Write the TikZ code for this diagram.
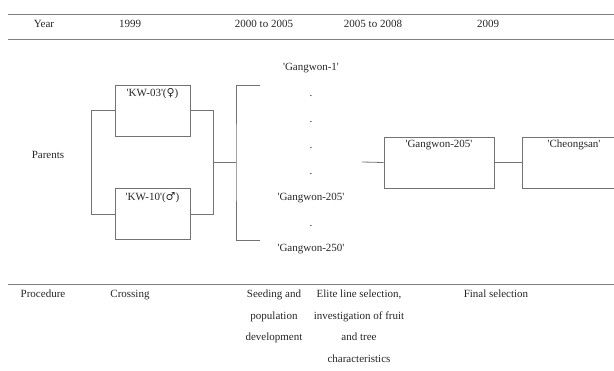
\documentclass[tikz,border=0pt]{standalone}
\usepackage{fontspec}
\setmainfont{Liberation Serif}[Ligatures=TeXOff]
\newfontfamily\symfont{DejaVu Serif}
\usetikzlibrary{positioning}
\newcommand{\sexsym}[1]{{\symfont\fontsize{11}{11}\selectfont #1}}

\begin{document}
\begin{tikzpicture}[x=1pt,y=-1pt,font=\rmfamily\fontsize{11}{12}\selectfont,
    every node/.style={inner sep=0pt,text=black!85}]
\tikzstyle{rule}=[draw=black!50,line width=1pt]
\tikzstyle{link}=[draw=black!55,line width=0.8pt]
\tikzstyle{crossbox}=[draw=black!55,line width=0.8pt,minimum width=75pt,minimum height=51pt]
\tikzstyle{selbox}=[crossbox,minimum width=110pt]
\tikzstyle{head}=[anchor=base]
\tikzstyle{proc}=[anchor=base,align=center,font=\rmfamily\fontsize{11}{21.5}\selectfont]

\useasboundingbox (0,0) rectangle (614,371);
\clip (0,0) rectangle (614,371);

\draw[rule] (8,15) -- (614,15);
\draw[rule] (8,40) -- (614,40);
\draw[rule] (8,285) -- (614,285);

\node[head] (year) at (44,28) {Year};
\node[head] (y1999) at (130,28) {1999};
\node[head] (y2000) at (264,28) {2000 to 2005};
\node[head] (y2005) at (373,28) {2005 to 2008};
\node[head] (y2009) at (488,28) {2009};

\node[head] (parents) at (48,159) {Parents};

\node[crossbox] (k03) at (152.5,110.5) {};
\node[crossbox] (k10) at (152.5,214) {};
\node[head,below=12pt of k03.north,anchor=base] (k03t) {'KW-03'(\sexsym{♀})};
\node[head,below=12pt of k10.north,anchor=base] (k10t) {'KW-10'(\sexsym{♂})};

\node[proc,font=\rmfamily\fontsize{11}{25.9}\selectfont] (lines) at (311,252)
    {'Gangwon-1'\\.\\.\\.\\.\\'Gangwon-205'\\.\\'Gangwon-250'};

\node[selbox] (g205) at (439,162.5) {};
\node[selbox,minimum width=140pt] (cheong) at (592,162.5) {};
\node[head,below=11pt of g205.north,anchor=base] (g205t) {'Gangwon-205'};
\node[head,anchor=base] (cheongt) at (574,148) {'Cheongsan'};

\coordinate (join) at (213,162);
\coordinate (fan) at (236,162);
\coordinate (g1end) at (260,85);
\coordinate (g250end) at (260,240);
\coordinate (pick) at (362,162);

\draw[link] (k03.west) -- ++(-23,0) |- (k10.west);
\draw[link] (k03.east) -- ++(23,0) |- (k10.east);
\draw[link] (join) -- (fan);
\draw[link] (g1end) -| (fan) |- (g250end);
\draw[link] (pick) -- (g205.west);
\draw[link] (g205.east) -- (cheong.west);

\node[proc] (pproc) at (43,298) {Procedure};
\node[proc] (pcross) at (130,298) {Crossing};
\node[proc] (pseed) at (274,341) {Seeding and\\population\\development};
\node[proc] (pelite) at (359,362.5) {Elite line selection,\\investigation of fruit\\and tree\\characteristics};
\node[proc] (pfinal) at (496,298) {Final selection};
\end{tikzpicture}
\end{document}
